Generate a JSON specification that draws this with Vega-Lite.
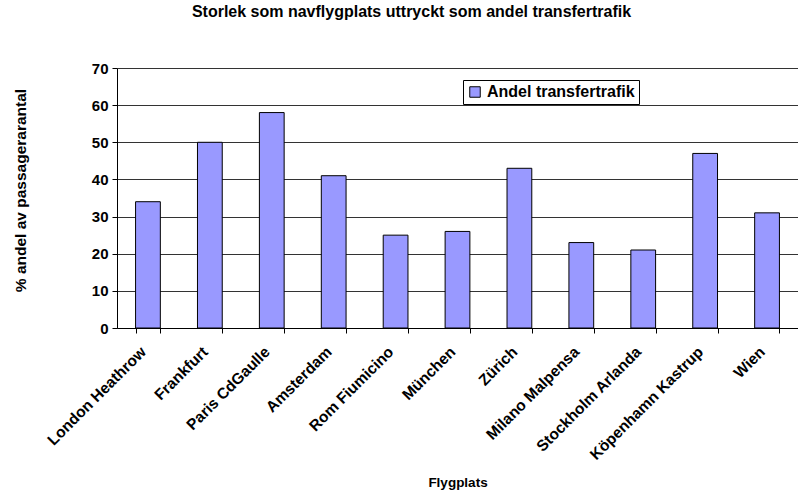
{
  "$schema": "https://vega.github.io/schema/vega-lite/v6.json",
  "autosize": {"type": "none"},
  "width": 681,
  "height": 260,
  "padding": {"left": 117, "top": 68, "right": 0, "bottom": 162},
  "background": "white",
  "title": {
    "text": "Storlek som navflygplats uttryckt som andel transfertrafik",
    "font": "Liberation Sans",
    "fontSize": 16,
    "fontWeight": "bold",
    "color": "#000",
    "anchor": "middle",
    "frame": "group",
    "dx": -46,
    "offset": 41
  },
  "data": {
    "values": [
      {"Flygplats": "London Heathrow", "Andel": 34, "Serie": "Andel transfertrafik"},
      {"Flygplats": "Frankfurt", "Andel": 50, "Serie": "Andel transfertrafik"},
      {"Flygplats": "Paris CdGaulle", "Andel": 58, "Serie": "Andel transfertrafik"},
      {"Flygplats": "Amsterdam", "Andel": 41, "Serie": "Andel transfertrafik"},
      {"Flygplats": "Rom Fiumicino", "Andel": 25, "Serie": "Andel transfertrafik"},
      {"Flygplats": "München", "Andel": 26, "Serie": "Andel transfertrafik"},
      {"Flygplats": "Zürich", "Andel": 43, "Serie": "Andel transfertrafik"},
      {"Flygplats": "Milano Malpensa", "Andel": 23, "Serie": "Andel transfertrafik"},
      {"Flygplats": "Stockholm Arlanda", "Andel": 21, "Serie": "Andel transfertrafik"},
      {"Flygplats": "Köpenhamn Kastrup", "Andel": 47, "Serie": "Andel transfertrafik"},
      {"Flygplats": "Wien", "Andel": 31, "Serie": "Andel transfertrafik"}
    ]
  },
  "mark": {"type": "bar", "stroke": "#000", "strokeWidth": 1},
  "encoding": {
    "x": {
      "field": "Flygplats",
      "type": "nominal",
      "sort": null,
      "scale": {"paddingInner": 0.6, "paddingOuter": 0.3},
      "axis": {
        "title": "Flygplats",
        "titleFont": "Liberation Sans",
        "titleFontSize": 13.5,
        "titleFontWeight": "bold",
        "titleColor": "#000",
        "titleY": 154,
        "titleBaseline": "middle",
        "labelAngle": -45,
        "labelFont": "Liberation Sans",
        "labelFontSize": 15.5,
        "labelFontWeight": "bold",
        "labelColor": "#000",
        "labelPadding": 11,
        "labelOffset": -10,
        "tickBand": "extent",
        "tickColor": "#000",
        "tickSize": 5,
        "domainColor": "#000",
        "grid": false
      }
    },
    "y": {
      "field": "Andel",
      "type": "quantitative",
      "scale": {"domain": [0, 70], "nice": false},
      "axis": {
        "title": "% andel av passagerarantal",
        "titleFont": "Liberation Sans",
        "titleFontSize": 15.5,
        "titleFontWeight": "bold",
        "titleColor": "#000",
        "titleX": -97,
        "titleY": 122,
        "titleBaseline": "middle",
        "values": [0, 10, 20, 30, 40, 50, 60, 70],
        "labelFont": "Liberation Sans",
        "labelFontSize": 15,
        "labelFontWeight": "bold",
        "labelColor": "#000",
        "labelPadding": 4,
        "tickColor": "#000",
        "tickSize": 5,
        "domainColor": "#000",
        "grid": true,
        "gridColor": "#000",
        "gridOpacity": 0.8
      }
    },
    "color": {
      "field": "Serie",
      "type": "nominal",
      "scale": {"range": ["#9999FF"]},
      "legend": {
        "title": null,
        "orient": "none",
        "legendX": 346,
        "legendY": 12,
        "strokeColor": "#000",
        "fillColor": "#fff",
        "padding": 4,
        "symbolType": "square",
        "symbolSize": 110,
        "symbolStrokeColor": "#000",
        "symbolStrokeWidth": 1,
        "labelFont": "Liberation Sans",
        "labelFontSize": 16,
        "labelFontWeight": "bold",
        "labelColor": "#000",
        "labelOffset": 4
      }
    }
  },
  "config": {
    "view": {"stroke": null}
  }
}
